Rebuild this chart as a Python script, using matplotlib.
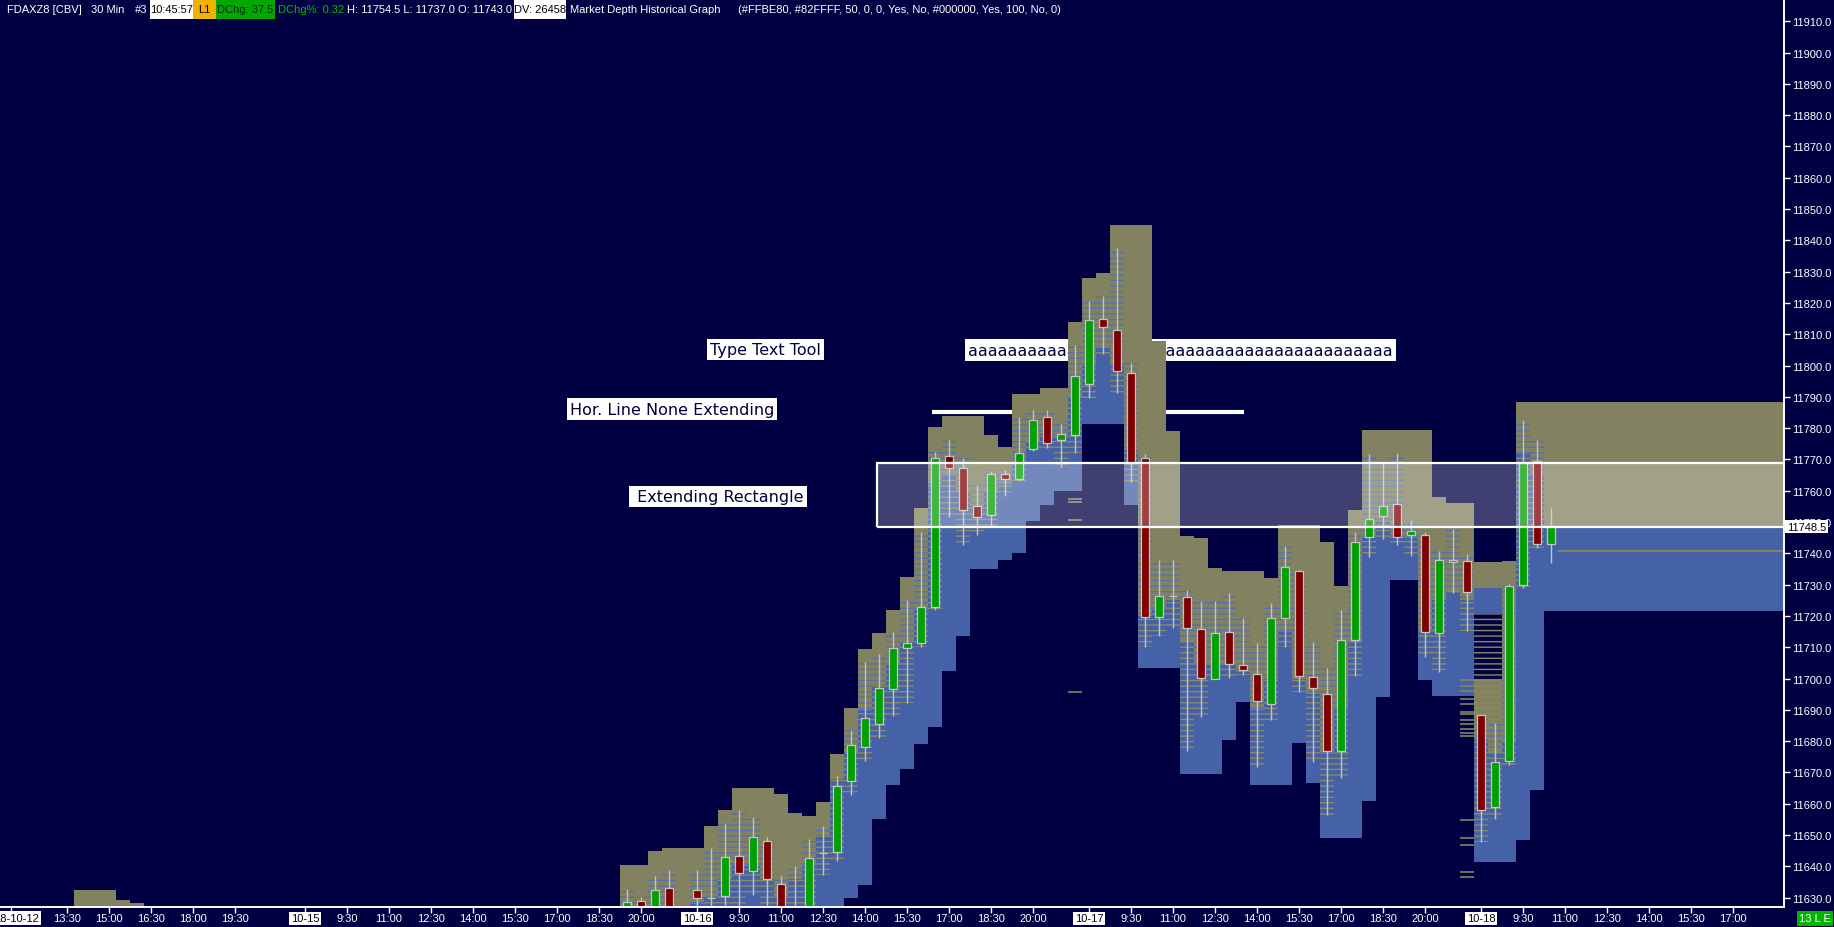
import matplotlib
matplotlib.use('Agg')
import matplotlib.pyplot as plt
from matplotlib import font_manager
from matplotlib.patches import Rectangle
from matplotlib.transforms import blended_transform_factory

W, H = 1834, 928
BG = '#000042'
OLIVE = '#828260'
BLUE = '#4562a8'
GREEN = '#00a000'
RED = '#800000'
EDGE = '#c4c4c4'

installed = {f.name for f in font_manager.fontManager.ttflist}
if 'Liberation Sans Narrow' in installed:
    NARROW, NSIZE = 'Liberation Sans Narrow', 9.4
else:
    NARROW, NSIZE = 'Liberation Sans', 8.0

# ---- candles: bar index (0 = 10-15 08:00, 30 min bars), OHLC ----
candle_idx = [23, 24, 25, 26, 28, 29, 30, 31, 32, 33, 34, 35, 36, 37, 38, 39, 40,
              41, 42, 43, 44, 45, 46, 47, 48, 49, 50, 51, 52, 53, 54, 55, 56, 57,
              58, 59, 60, 61, 62, 63, 64, 65, 66, 67, 68, 69, 70, 71, 72, 73, 74,
              75, 76, 77, 78, 79, 80, 81, 82, 83, 84, 85, 86, 87, 88, 89]
candle_open = [11624.0, 11629.0, 11624.0, 11633.2, 11632.4, 11629.9, 11630.6, 11643.4, 11638.6, 11648.2, 11634.5, 11624.0, 11624.0, 11644.1, 11644.7, 11667.1, 11678.0,
               11685.4, 11696.6, 11709.6, 11711.2, 11722.7, 11771.0, 11767.4, 11755.0, 11752.4, 11765.5, 11763.6, 11773.2, 11783.4, 11776.1, 11777.9, 11794.0, 11815.0,
               11811.5, 11797.5, 11770.6, 11719.5, 11726.4, 11726.2, 11715.9, 11699.7, 11715.0, 11704.3, 11701.5, 11691.7, 11719.2, 11734.2, 11700.6, 11695.2, 11676.7,
               11712.4, 11745.1, 11752.0, 11755.9, 11745.7, 11746.0, 11714.7, 11737.1, 11737.7, 11688.5, 11659.1, 11673.5, 11730.0, 11769.5, 11743.0]
candle_high = [11632.7, 11630.1, 11636.8, 11638.7, 11638.7, 11645.9, 11653.9, 11658.1, 11655.7, 11649.3, 11636.8, 11640.1, 11648.6, 11653.0, 11668.7, 11683.5, 11705.4,
               11707.8, 11715.0, 11725.0, 11746.7, 11772.5, 11776.2, 11770.6, 11761.7, 11766.3, 11766.5, 11783.4, 11785.8, 11785.8, 11781.3, 11806.5, 11820.6, 11822.1,
               11837.5, 11800.8, 11771.7, 11737.8, 11737.8, 11728.2, 11724.9, 11724.9, 11727.3, 11719.2, 11711.3, 11724.1, 11742.3, 11734.7, 11711.6, 11703.3, 11722.0,
               11746.7, 11771.7, 11768.9, 11772.0, 11750.6, 11746.8, 11740.7, 11747.9, 11739.7, 11688.5, 11685.9, 11730.1, 11782.6, 11776.2, 11754.5]
candle_low = [11620.0, 11620.0, 11620.0, 11620.0, 11622.0, 11622.0, 11624.0, 11622.0, 11630.8, 11622.0, 11618.0, 11615.0, 11620.0, 11637.2, 11641.7, 11662.8, 11673.5,
              11680.9, 11687.9, 11692.3, 11710.2, 11721.8, 11751.7, 11742.7, 11745.9, 11748.4, 11758.4, 11763.0, 11772.7, 11773.7, 11767.6, 11771.9, 11789.7, 11803.8,
              11791.3, 11762.8, 11710.1, 11713.6, 11716.0, 11676.9, 11687.7, 11699.7, 11700.2, 11701.2, 11671.8, 11686.8, 11710.0, 11695.7, 11673.3, 11656.4, 11668.2,
              11700.7, 11738.8, 11744.6, 11742.7, 11739.2, 11706.9, 11702.1, 11727.3, 11715.2, 11647.9, 11655.0, 11672.4, 11728.8, 11741.8, 11737.0]
candle_close = [11628.6, 11624.0, 11632.4, 11624.0, 11630.0, 11629.9, 11643.1, 11638.0, 11649.5, 11636.1, 11622.0, 11620.0, 11642.6, 11644.1, 11665.5, 11678.6, 11687.3,
                11697.1, 11709.6, 11711.2, 11723.0, 11770.5, 11767.1, 11753.7, 11751.5, 11765.5, 11763.9, 11771.9, 11782.5, 11775.4, 11778.0, 11796.5, 11814.4, 11812.3,
                11798.1, 11769.0, 11719.5, 11726.4, 11726.4, 11716.0, 11700.1, 11714.7, 11704.5, 11702.6, 11692.7, 11719.2, 11735.5, 11700.9, 11697.1, 11676.7, 11712.4,
                11743.5, 11751.1, 11755.0, 11745.1, 11747.0, 11715.0, 11738.0, 11737.9, 11727.5, 11658.1, 11673.2, 11729.7, 11768.8, 11743.1, 11748.5]

# ---- market depth columns: ask (olive) from mid to top, bid (blue) from bot to mid ----
depth_idx = [-16, -15, -14, -13, -12,
             23, 24, 25, 26, 27, 28, 29, 30, 31, 32, 33, 34, 35, 36, 37, 38,
             39, 40, 41, 42, 43, 44, 45, 46, 47, 48, 49, 50, 51, 52, 53, 54, 55, 56, 57, 58, 59, 60, 61, 62,
             63, 64, 65, 66, 67, 68, 69, 70, 71, 72, 73, 74, 75, 76, 77, 78, 79, 80, 81, 82, 83,
             84, 84, 85, 85, 86, 87, 88]
depth_top = [11632.3, 11632.3, 11632.3, 11629.3, 11628.2,
             11640.3, 11640.3, 11644.8, 11645.7, 11645.7, 11645.7, 11652.8, 11658.0, 11664.9, 11664.9, 11664.9, 11663.0, 11657.0, 11656.0, 11660.5, 11675.8,
             11690.5, 11709.4, 11714.5, 11721.8, 11732.4, 11754.4, 11780.3, 11783.8, 11783.8, 11783.8, 11777.7, 11773.9, 11790.9, 11790.9, 11792.8, 11792.8, 11813.9,
             11827.9, 11829.5, 11844.9, 11844.9, 11844.9, 11807.8, 11779.0,
             11745.5, 11744.8, 11735.3, 11734.3, 11734.3, 11734.3, 11732.1, 11749.2, 11749.2, 11749.2, 11743.5, 11729.5, 11753.8, 11779.3, 11779.3, 11779.3, 11779.3,
             11779.3, 11757.9, 11756.0, 11756.0,
             11737.2, 11699.8, 11737.2, 11699.8, 11737.5, 11788.2, 11788.2]
depth_mid = [11600, 11600, 11600, 11600, 11600,
             11622, 11622, 11626, 11624, 11624, 11628, 11630, 11636, 11640, 11640, 11636, 11630, 11636, 11640, 11650, 11668,
             11676, 11690, 11698, 11705, 11712, 11722, 11762, 11765, 11760, 11755, 11760, 11762, 11768, 11776, 11778, 11777, 11790,
             11800, 11806, 11800, 11773, 11720, 11722, 11725,
             11712, 11705, 11705, 11705, 11702, 11690, 11700, 11715, 11700, 11695, 11676, 11690, 11712, 11745, 11750, 11745, 11745,
             11715, 11725, 11728, 11725,
             11728.9, 11680.6, 11728.9, 11676.4, 11680, 11772, 11765]
depth_bot = [11590, 11590, 11590, 11590, 11590,
             11590, 11590, 11590, 11590, 11590, 11590, 11590, 11590, 11590, 11590, 11590, 11590, 11590, 11590, 11590, 11590,
             11629.8, 11634.1, 11655.0, 11666.0, 11671.0, 11679.0, 11684.4, 11702.3, 11713.5, 11735.0, 11735.0, 11737.8, 11740.0, 11750.3, 11755.3, 11759.8, 11759.8,
             11781.3, 11781.3, 11781.3, 11755.4, 11703.2, 11703.2, 11703.2,
             11669.4, 11669.4, 11669.4, 11680.2, 11692.5, 11665.9, 11665.9, 11665.9, 11679.3, 11666.5, 11649.0, 11649.0, 11649.0, 11660.8, 11694.0, 11731.4, 11731.4,
             11699.5, 11694.4, 11694.4, 11694.5,
             11720.6, 11641.4, 11720.6, 11641.4, 11641.4, 11648.4, 11664.4]

# current book, extended to the right edge from the last bar
ext_start = 88.5
ext_top, ext_mid, ext_bot, ext_stripe = 11788.2, 11748.5, 11721.6, 11740.8

# isolated depth levels left over in gaps
dash_idx = [55, 55, 55, 55, 83, 83, 83, 83, 83, 83, 83, 83, 83, 83, 83, 83, 83, 83, 83, 83, 83]
dash_price = [11757.3, 11756.3, 11750.6, 11695.6, 11699.5, 11697.6, 11696.0, 11693.4, 11691.8, 11689.3,
              11686.7, 11685.4, 11683.8, 11682.5, 11681.5, 11654.8, 11649.2, 11646.8, 11638.2, 11636.7, 11688.6]

# drawings
hline_price, hline_x0, hline_x1 = 11785.0, 44.8, 67.1
rect_x0, rect_lo, rect_hi = 40.86, 11748.5, 11768.8
last_price = 11748.5

yticks = list(range(11630, 11911, 10))
xtick_pos = [-21, -17, -14, -11, -8, -5, 0, 3, 6, 9, 12, 15, 18, 21, 24, 28, 31, 34, 37, 40, 43, 46, 49, 52,
             56, 59, 62, 65, 68, 71, 74, 77, 80, 84, 87, 90, 93, 96, 99, 102]
xtick_lab = ['18-10-12', '13:30', '15:00', '16:30', '18:00', '19:30',
             '10-15', '9:30', '11:00', '12:30', '14:00', '15:30', '17:00', '18:30', '20:00',
             '10-16', '9:30', '11:00', '12:30', '14:00', '15:30', '17:00', '18:30', '20:00',
             '10-17', '9:30', '11:00', '12:30', '14:00', '15:30', '17:00', '18:30', '20:00',
             '10-18', '9:30', '11:00', '12:30', '14:00', '15:30', '17:00']

plt.rcParams['hatch.linewidth'] = 1.0

fig = plt.figure(figsize=(W / 100, H / 100), dpi=100, facecolor=BG)
ax = fig.add_axes([0, 20 / H, 1784 / W, 908 / H], facecolor=BG)
XMIN, XMAX = -305 / 14, 1479 / 14
ax.set_xlim(XMIN, XMAX)
ax.set_ylim(11627.0, 11917.1)

# text tool boxes and the horizontal line sit under the depth graph
box = dict(boxstyle='square,pad=0.2', fc='white', ec='none')
ann_kw = dict(fontsize=11.5, color='#000038', va='center', zorder=1, bbox=box)
ax.text(32.89, 11805.1, 'Type Text Tool', ha='center', **ann_kw)
ax.text(47.36, 11804.9, 'a' * 43, ha='left', **ann_kw)
ax.text(26.21, 11786.1, 'Hor. Line None Extending', ha='center', **ann_kw)
ax.text(29.5, 11758.1, ' Extending Rectangle', ha='center', **ann_kw)
ax.hlines(hline_price, hline_x0, hline_x1, color='white', lw=3.0, zorder=1)

# depth columns
for i, t, m, b in zip(depth_idx, depth_top, depth_mid, depth_bot):
    m2 = min(max(m, b), t)
    ax.bar(i, t - m2, bottom=m2, width=1.0, color=OLIVE, lw=0, zorder=1.5)
    if m2 > b:
        ax.bar(i, m2 - b, bottom=b, width=1.0, color=BLUE, lw=0, zorder=1.5)

# mixed zone inside each bar's traded range
hl = {i: (h, l) for i, h, l in zip(candle_idx, candle_high, candle_low)}
for i, t, m, b in zip(depth_idx, depth_top, depth_mid, depth_bot):
    if i not in hl:
        continue
    h, l = hl[i]
    hi, lo = min(t, h), max(b, l)
    m2 = min(max(m, b), t)
    if hi > m2:
        ax.bar(i, hi - max(m2, lo), bottom=max(m2, lo), width=1.0, facecolor='none',
               edgecolor='#5470b0', hatch='---', lw=0, zorder=1.6)
    if m2 > lo:
        ax.bar(i, min(m2, hi) - lo, bottom=lo, width=1.0, facecolor='none',
               edgecolor='#8a8a62', hatch='---', lw=0, zorder=1.6)

ax.add_patch(Rectangle((ext_start, ext_mid), XMAX + 2 - ext_start, ext_top - ext_mid,
                       fc=OLIVE, lw=0, zorder=1.5))
ax.add_patch(Rectangle((ext_start, ext_bot), XMAX + 2 - ext_start, ext_mid - ext_bot,
                       fc=BLUE, lw=0, zorder=1.5))
ax.hlines(ext_stripe, ext_start + 1, XMAX + 2, color=OLIVE, lw=1.5, zorder=1.6)
ax.hlines(dash_price, [d - 0.5 for d in dash_idx], [d + 0.5 for d in dash_idx],
          color=OLIVE, lw=1.2, zorder=1.6)

# candles
ax.vlines(candle_idx, candle_low, candle_high, color=EDGE, lw=1.0, zorder=3)
for i, o, c in zip(candle_idx, candle_open, candle_close):
    col = GREEN if c > o else (RED if c < o else EDGE)
    ax.bar(i, abs(c - o), bottom=min(o, c), width=0.62, color=col,
           edgecolor=EDGE, lw=0.9, zorder=3.5)

# extending rectangle on top
ax.add_patch(Rectangle((rect_x0, rect_lo), XMAX + 5 - rect_x0, rect_hi - rect_lo,
                       fc='white', alpha=0.25, lw=0, zorder=5))
ax.add_patch(Rectangle((rect_x0, rect_lo), XMAX + 5 - rect_x0, rect_hi - rect_lo,
                       fill=False, ec='white', lw=1.6, zorder=5.1))

# axes
for s in ['top', 'left']:
    ax.spines[s].set_visible(False)
for s in ['right', 'bottom']:
    ax.spines[s].set_color('white')
    ax.spines[s].set_linewidth(1.4)
    ax.spines[s].set_zorder(6)
ax.yaxis.tick_right()
ax.set_yticks(yticks)
ax.set_yticklabels([f'{v:.1f}' for v in yticks])
ax.set_xticks(xtick_pos)
ax.set_xticklabels([''] + xtick_lab[1:])
ax.tick_params(colors='white', length=4, width=1, labelsize=NSIZE)
ax.tick_params(axis='x', pad=0.5)
ax.tick_params(axis='y', pad=2)
for lbl in ax.get_xticklabels() + ax.get_yticklabels():
    lbl.set_fontfamily(NARROW)
date_box = dict(boxstyle='square,pad=0.15', fc='white', ec='none')
for lbl in ax.get_xticklabels():
    if '-' in lbl.get_text():
        lbl.set_color('black')
        lbl.set_bbox(date_box)

# first (clamped) date label at the left edge of the chart
trx = blended_transform_factory(ax.transData, ax.transAxes)
ax.text(XMIN + 16.5 / 14, -11 / 908, xtick_lab[0], transform=trx, ha='center', va='center',
        color='black', fontsize=NSIZE, fontfamily=NARROW, clip_on=False, bbox=date_box)

tr = blended_transform_factory(ax.transAxes, ax.transData)
ax.text(1 + 3 / 1784, last_price, f'{last_price:.1f}', transform=tr, ha='left', va='center',
        color='black', fontsize=NSIZE, fontfamily=NARROW, zorder=10, clip_on=False,
        bbox=dict(boxstyle='square,pad=0.15', fc='white', ec='none'))

fig.text(1815 / W, 1 - 919.5 / H, '13 L E', ha='center', va='center', color='white',
         fontsize=NSIZE, fontfamily=NARROW,
         bbox=dict(boxstyle='square,pad=0.2', fc='#00b400', ec='none'))

# header line
header = [
    ('FDAXZ8 [CBV]', 7, None, 'white', None),
    ('30 Min', 91, None, 'white', None),
    ('#3', 135, None, 'white', None),
    ('10:45:57', 150, 192.5, 'black', 'white'),
    ('L1', 192.5, 216, 'black', '#f2b000'),
    ('DChg: 37.5', 216, 275, '#002400', '#00a800'),
    ('DChg%: 0.32', 278, None, '#00c000', None),
    ('H: 11754.5 L: 11737.0 O: 11743.0', 347, None, 'white', None),
    ('DV: 26458', 514, 566, 'black', 'white'),
    ('Market Depth Historical Graph', 569.5, None, 'white', None),
    ('(#FFBE80, #82FFFF, 50, 0, 0, Yes, No, #000000, Yes, 100, No, 0)', 738, None, 'white', None),
]
for txt, x0, x1, tc, bc in header:
    if bc is not None:
        fig.add_artist(Rectangle((x0 / W, 1 - 20 / H), (x1 - x0) / W, 20 / H,
                                 transform=fig.transFigure, fc=bc, lw=0))
        fig.text((x0 + x1) / 2 / W, 1 - 10 / H, txt, ha='center', va='center',
                 color=tc, fontsize=NSIZE, fontfamily=NARROW)
    else:
        fig.text(x0 / W, 1 - 10 / H, txt, ha='left', va='center',
                 color=tc, fontsize=NSIZE, fontfamily=NARROW)

fig.savefig('out.png', dpi=100, facecolor=BG)
